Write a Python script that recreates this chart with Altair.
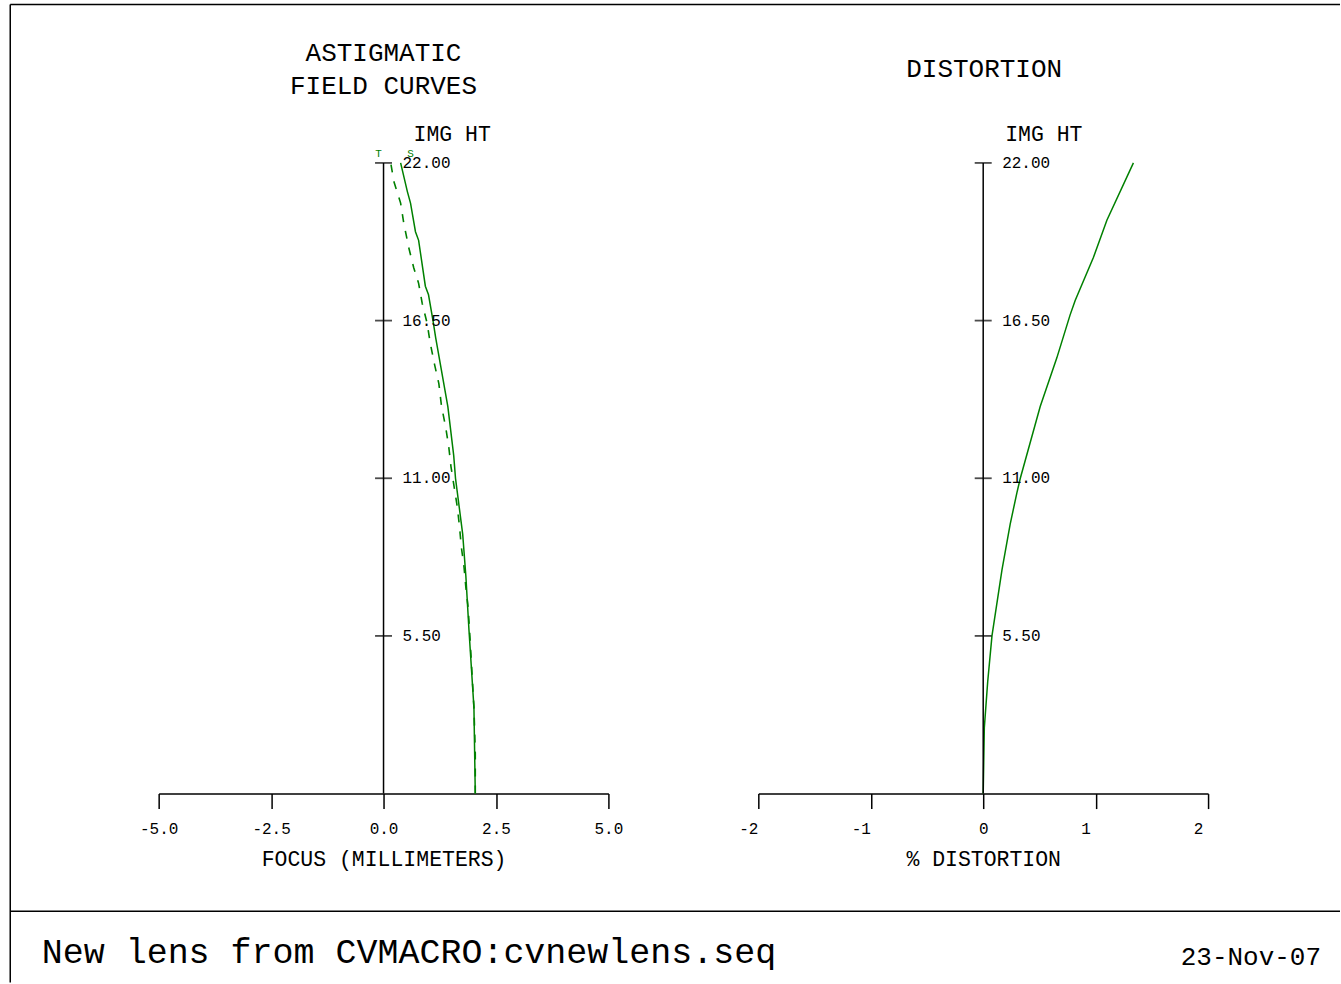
import altair as alt
import pandas as pd

# ---- data ----
# Astigmatic field curves: image height (mm) vs focus (mm)
sag_img = [0, 3.0, 5.7, 7.6, 9.05, 11.0, 11.8, 13.5, 15.9, 16.5, 17.4, 17.7, 19.3, 19.6, 20.6, 21.0, 22.0]
sag_focus = [2.04, 2.01, 1.90, 1.83, 1.76, 1.60, 1.56, 1.43, 1.16, 1.10, 1.00, 0.93, 0.78, 0.71, 0.60, 0.53, 0.38]
tan_img = [0, 1.4, 3.0, 5.5, 6.5, 7.2, 7.9, 8.6, 9.3, 10.0, 10.7, 11.4, 12.1, 12.8, 13.5, 14.3, 15.0,
           15.7, 16.4, 17.1, 17.8, 18.35, 19.05, 19.9, 20.6, 21.35, 22.0]
tan_focus = [2.04, 2.04, 2.01, 1.92, 1.88, 1.83, 1.79, 1.73, 1.69, 1.64, 1.57, 1.50, 1.45, 1.38, 1.29, 1.23, 1.13,
             1.04, 0.97, 0.86, 0.78, 0.67, 0.56, 0.45, 0.38, 0.23, 0.16]
# Distortion: image height (mm) vs % distortion
dist_img = [0, 2.3, 3.9, 5.5, 7.8, 9.4, 10.5, 11.0, 13.5, 15.2, 16.7, 17.2, 18.7, 20.0, 22.0]
dist_pct = [0, 0.01, 0.04, 0.078, 0.167, 0.24, 0.30, 0.33, 0.507, 0.655, 0.773, 0.818, 0.98, 1.10, 1.336]

img_ticks = [5.5, 11.0, 16.5, 22.0]
focus_ticks = [-5, -2.5, 0, 2.5, 5]
dist_ticks = [-2, -1, 0, 1, 2]

FONT = 'Liberation Mono'
GREEN = '#008000'
W, H = 450, 631

one = pd.DataFrame({'k': [0]})
ysc = alt.Scale(domain=[0, 22], nice=False, zero=False)

axis_style = dict(
    tickSize=15, tickWidth=1.5, tickColor='black', domainColor='black', domainWidth=1.5,
    grid=False, labelFont=FONT, labelFontSize=16, labelColor='black', labelPadding=25,
    labelBaseline='alphabetic', labelFlush=False, labelOverlap=False,
    titleFont=FONT, titleFontSize=21.5, titleFontWeight='normal', titleColor='black',
    titleY=72, titleBaseline='alphabetic', titleAnchor='middle',
)


def y_axis_layers(xsc, label_dx, imght_dx):
    ticks_df = pd.DataFrame({'v': img_ticks})
    line = alt.Chart(pd.DataFrame({'lo': [0.0], 'hi': [22.0]})).mark_rule(
        color='black', strokeWidth=1.5
    ).encode(x=alt.X(datum=0, scale=xsc), y=alt.Y('lo:Q', scale=ysc, axis=None), y2='hi:Q')
    ticks = alt.Chart(ticks_df).mark_tick(
        orient='horizontal', size=17, thickness=1.8, color='black'
    ).encode(x=alt.X(datum=0, scale=xsc), y=alt.Y('v:Q', scale=ysc, axis=None))
    labels = alt.Chart(ticks_df).mark_text(
        align='left', baseline='middle', dx=label_dx, font=FONT, fontSize=16, color='black'
    ).encode(x=alt.X(datum=0, scale=xsc), y=alt.Y('v:Q', scale=ysc, axis=None),
             text=alt.Text('v:Q', format='.2f'))
    imght = alt.Chart(one).mark_text(
        text='IMG HT', align='left', baseline='alphabetic', dx=imght_dx, font=FONT,
        fontSize=21.5, color='black'
    ).encode(x=alt.X(datum=0, scale=xsc), y=alt.value(-22))
    return [line, ticks, labels, imght]


# ---------------- panel 1: astigmatic field curves ----------------
xsc1 = alt.Scale(domain=[-5, 5], nice=False, zero=False)
xaxis1 = alt.Axis(
    values=focus_ticks,
    labelExpr="(datum.value < 0 ? '-' : '') + format(abs(datum.value), '.1f')",
    title='FOCUS (MILLIMETERS)', **axis_style)

sag_df = pd.DataFrame({'img': sag_img, 'focus': sag_focus})
tan_df = pd.DataFrame({'img': tan_img, 'focus': tan_focus})

sag_line = alt.Chart(sag_df).mark_line(color=GREEN, strokeWidth=1.5).encode(
    x=alt.X('focus:Q', scale=xsc1, axis=xaxis1),
    y=alt.Y('img:Q', scale=ysc, axis=None),
    order='img:Q')
tan_line = alt.Chart(tan_df).mark_line(color=GREEN, strokeWidth=1.6, strokeDash=[8, 9]).encode(
    x=alt.X('focus:Q', scale=xsc1),
    y=alt.Y('img:Q', scale=ysc, axis=None),
    order='img:Q')

t_lab = alt.Chart(one).mark_text(text='T', color=GREEN, font=FONT, fontSize=11, dx=-5,
                                 align='center', baseline='alphabetic').encode(
    x=alt.X(datum=0, scale=xsc1), y=alt.value(-6))
s_lab = alt.Chart(one).mark_text(text='S', color=GREEN, font=FONT, fontSize=11, dx=27,
                                 align='center', baseline='alphabetic').encode(
    x=alt.X(datum=0, scale=xsc1), y=alt.value(-6))

title1a = alt.Chart(one).mark_text(text='ASTIGMATIC', font=FONT, fontSize=26, color='black',
                                   align='center', baseline='alphabetic').encode(
    x=alt.X(datum=0, scale=xsc1), y=alt.value(-102))
title1b = alt.Chart(one).mark_text(text='FIELD CURVES', font=FONT, fontSize=26, color='black',
                                   align='center', baseline='alphabetic').encode(
    x=alt.X(datum=0, scale=xsc1), y=alt.value(-69))

# page frame and footer (decoration, pixel positions relative to panel 1)
frame_top = alt.Chart(one).mark_rule(color='black', strokeWidth=1.5).encode(
    x=alt.value(-148.5), x2=alt.value(1182), y=alt.value(-158.5))
frame_left = alt.Chart(one).mark_rule(color='black', strokeWidth=1.5).encode(
    x=alt.value(-148.5), y=alt.value(-158.5), y2=alt.value(820))
footer_line = alt.Chart(one).mark_rule(color='black', strokeWidth=1.5).encode(
    x=alt.value(-148.5), x2=alt.value(1182), y=alt.value(748.7))
footer_txt = alt.Chart(one).mark_text(text='New lens from CVMACRO:cvnewlens.seq', font=FONT,
                                      fontSize=35, color='black', align='left',
                                      baseline='alphabetic').encode(
    x=alt.value(-117), y=alt.value(801))
date_txt = alt.Chart(one).mark_text(text='23-Nov-07', font=FONT, fontSize=26, color='black',
                                    align='right', baseline='alphabetic').encode(
    x=alt.value(1163), y=alt.value(803))

panel1 = alt.layer(
    sag_line, tan_line, *y_axis_layers(xsc1, 19, 30), t_lab, s_lab, title1a, title1b,
    frame_top, frame_left, footer_line, footer_txt, date_txt
).properties(width=W, height=H)

# ---------------- panel 2: distortion ----------------
xsc2 = alt.Scale(domain=[-2, 2], nice=False, zero=False)
xaxis2 = alt.Axis(
    values=dist_ticks,
    labelExpr="(datum.value < 0 ? '-' : '') + format(abs(datum.value), 'd')",
    labelOffset={'condition': {'test': 'datum.value == 0', 'value': 0}, 'value': -10},
    title='% DISTORTION', **axis_style)

dist_df = pd.DataFrame({'img': dist_img, 'pct': dist_pct})
dist_line = alt.Chart(dist_df).mark_line(color=GREEN, strokeWidth=1.5).encode(
    x=alt.X('pct:Q', scale=xsc2, axis=xaxis2),
    y=alt.Y('img:Q', scale=ysc, axis=None),
    order='img:Q')
title2 = alt.Chart(one).mark_text(text='DISTORTION', font=FONT, fontSize=26, color='black',
                                  align='center', baseline='alphabetic', dx=1).encode(
    x=alt.X(datum=0, scale=xsc2), y=alt.value(-86))

panel2 = alt.layer(dist_line, *y_axis_layers(xsc2, 19, 22), title2).properties(width=W, height=H)

chart = alt.hconcat(panel1, panel2, spacing=150, bounds='flush').properties(
    padding={'left': 8.75, 'top': 2.75, 'right': 0, 'bottom': 0},
    autosize=alt.AutoSizeParams(type='pad'),
    background='white',
).configure_view(strokeWidth=0)

chart.save("out.html", embed_options={"renderer": "svg", "actions": False})
